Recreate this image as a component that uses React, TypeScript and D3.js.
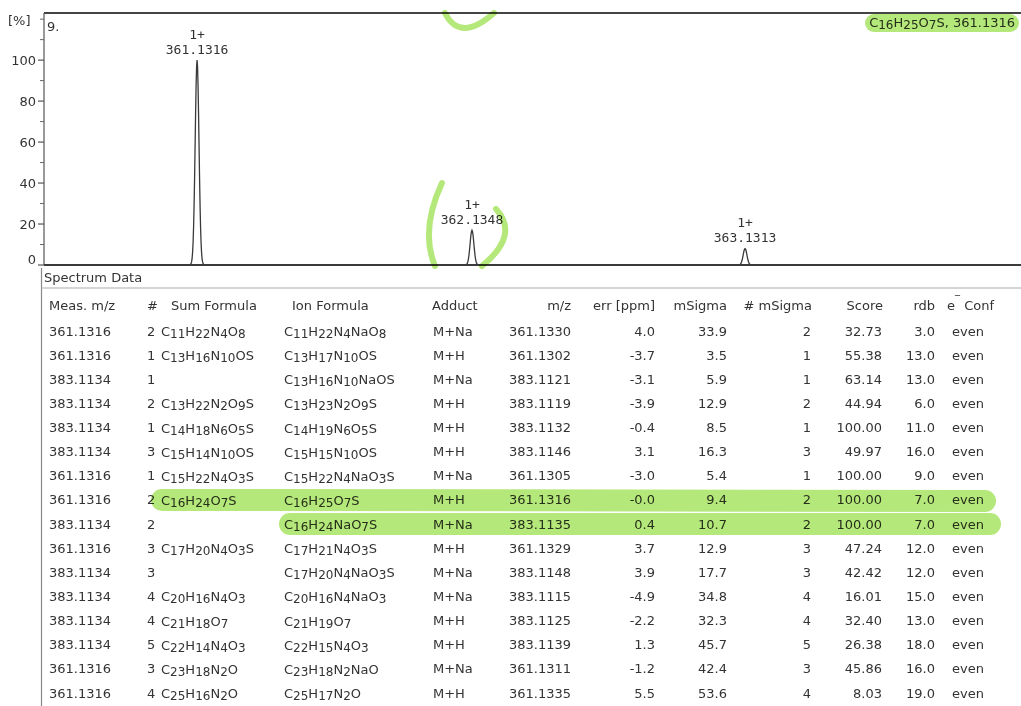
import React from "react";
import * as d3 from "d3";

// ---------- spectrum data ----------
const peakMz = [361.1316, 362.1348, 363.1313];
const peakIntensity = [100, 17, 8];
const peakCharge = ["1+", "1+", "1+"];
const yTickValues = [0, 20, 40, 60, 80, 100];
const yMinorTicks = [10, 30, 50, 70, 90, 110, 120];
const compoundLabel = "C16H25O7S";
const compoundMz = "361.1316";
const spectrumIndex = "9.";

// ---------- table data ----------
const measMz = ["361.1316", "361.1316", "383.1134", "383.1134", "383.1134", "383.1134", "361.1316", "361.1316", "383.1134", "361.1316", "383.1134", "383.1134", "383.1134", "383.1134", "361.1316", "361.1316"];
const rankNo = [2, 1, 1, 2, 1, 3, 1, 2, 2, 3, 3, 4, 4, 5, 3, 4];
const sumFormula = ["C11H22N4O8", "C13H16N10OS", "", "C13H22N2O9S", "C14H18N6O5S", "C15H14N10OS", "C15H22N4O3S", "C16H24O7S", "", "C17H20N4O3S", "", "C20H16N4O3", "C21H18O7", "C22H14N4O3", "C23H18N2O", "C25H16N2O"];
const ionFormula = ["C11H22N4NaO8", "C13H17N10OS", "C13H16N10NaOS", "C13H23N2O9S", "C14H19N6O5S", "C15H15N10OS", "C15H22N4NaO3S", "C16H25O7S", "C16H24NaO7S", "C17H21N4O3S", "C17H20N4NaO3S", "C20H16N4NaO3", "C21H19O7", "C22H15N4O3", "C23H18N2NaO", "C25H17N2O"];
const adduct = ["M+Na", "M+H", "M+Na", "M+H", "M+H", "M+H", "M+Na", "M+H", "M+Na", "M+H", "M+Na", "M+Na", "M+H", "M+H", "M+Na", "M+H"];
const calcMz = ["361.1330", "361.1302", "383.1121", "383.1119", "383.1132", "383.1146", "361.1305", "361.1316", "383.1135", "361.1329", "383.1148", "383.1115", "383.1125", "383.1139", "361.1311", "361.1335"];
const errPpm = ["4.0", "-3.7", "-3.1", "-3.9", "-0.4", "3.1", "-3.0", "-0.0", "0.4", "3.7", "3.9", "-4.9", "-2.2", "1.3", "-1.2", "5.5"];
const mSigma = ["33.9", "3.5", "5.9", "12.9", "8.5", "16.3", "5.4", "9.4", "10.7", "12.9", "17.7", "34.8", "32.3", "45.7", "42.4", "53.6"];
const nMSigma = [2, 1, 1, 2, 1, 3, 1, 2, 2, 3, 3, 4, 4, 5, 3, 4];
const score = ["32.73", "55.38", "63.14", "44.94", "100.00", "49.97", "100.00", "100.00", "100.00", "47.24", "42.42", "16.01", "32.40", "26.38", "45.86", "8.03"];
const rdb = ["3.0", "13.0", "13.0", "6.0", "11.0", "16.0", "9.0", "7.0", "7.0", "12.0", "12.0", "15.0", "13.0", "18.0", "16.0", "19.0"];
const eConf = ["even", "even", "even", "even", "even", "even", "even", "even", "even", "even", "even", "even", "even", "even", "even", "even"];
const highlightedRows = [7, 8];

const W = 1021;
const H = 706;
const FONT = "'DejaVu Sans', Verdana, sans-serif";
const MONO = "'DejaVu Sans Mono', 'Liberation Mono', monospace";
const INK = "#333";
const HL = "#ade66b";

function Formula({ f, sub = 12, tail = "" }: { f: string; sub?: number; tail?: string }) {
  const parts: any[] = [];
  const re = /([A-Z][a-z]?)(\d*)/g;
  let m: RegExpExecArray | null;
  let lowered = false;
  let k = 0;
  while ((m = re.exec(f))) {
    parts.push(
      <tspan key={k++} dy={lowered ? -3 : 0}>
        {m[1]}
      </tspan>
    );
    lowered = false;
    if (m[2]) {
      parts.push(
        <tspan key={k++} fontSize={sub} dy={3}>
          {m[2]}
        </tspan>
      );
      lowered = true;
    }
  }
  if (tail) {
    parts.push(
      <tspan key={k++} dy={lowered ? -3 : 0}>
        {tail}
      </tspan>
    );
  }
  return <>{parts}</>;
}

export default function App() {
  const x = d3.scaleLinear().domain([360.573, 364.131]).range([44, 1019]);
  const y = d3.scaleLinear().domain([0, 123]).range([265, 13]);
  const rowY = d3.scaleLinear().domain([0, 15]).range([331, 693]);

  const peakPath = (mz: number, inten: number) => {
    const cx = x(mz);
    const s = 1.9;
    const pts = d3.range(-8, 8.01, 0.5).map((dx) => [cx + dx, y(inten * Math.exp(-(dx * dx) / (2 * s * s)))] as [number, number]);
    return d3.line()(pts) || "";
  };

  const cols = [
    { key: "meas", header: "Meas. m/z", hx: 49, x: 49, anchor: "start", get: (i: number) => measMz[i] },
    { key: "rank", header: "#", hx: 147, x: 147, anchor: "start", get: (i: number) => String(rankNo[i]) },
    { key: "adduct", header: "Adduct", hx: 432, x: 433, anchor: "start", get: (i: number) => adduct[i] },
    { key: "mz", header: "m/z", hx: 571, x: 571, anchor: "end", get: (i: number) => calcMz[i] },
    { key: "err", header: "err [ppm]", hx: 655, x: 655, anchor: "end", get: (i: number) => errPpm[i] },
    { key: "ms", header: "mSigma", hx: 727, x: 727, anchor: "end", get: (i: number) => mSigma[i] },
    { key: "nms", header: "# mSigma", hx: 812, x: 811, anchor: "end", get: (i: number) => String(nMSigma[i]) },
    { key: "score", header: "Score", hx: 883, x: 882, anchor: "end", get: (i: number) => score[i] },
    { key: "rdb", header: "rdb", hx: 935, x: 935, anchor: "end", get: (i: number) => rdb[i] },
    { key: "conf", header: "", hx: 947, x: 952, anchor: "start", get: (i: number) => eConf[i] },
  ];

  const c2 = x(peakMz[1]);
  const y0 = y(0);
  const greenArcs = [
    `M${c2 - 30},${y0 - 82} Q${c2 - 52},${y0 - 35} ${c2 - 37},${y0 + 1}`,
    `M${c2 + 24},${y0 - 56} Q${c2 + 48},${y0 - 30} ${c2 + 10},${y0 + 1}`,
    `M${c2 - 27},${y(123)} Q${c2 - 12},${y(123) + 30} ${c2 + 22},${y(123)}`,
  ];

  return (
    <svg width={W} height={H} style={{ position: "absolute", left: 0, top: 0, background: "#fff" }} fontFamily={FONT} fontSize={13}>
      <rect width={W} height={H} fill="#fff" />
      {/* ---- spectrum frame ---- */}
      <line x1={44} x2={W} y1={y(123)} y2={y(123)} stroke="#444" strokeWidth={2} />
      <line x1={44} x2={44} y1={y(123)} y2={y0} stroke="#555" strokeWidth={1.2} />
      {yTickValues.map((v) => (
        <g key={v}>
          <line x1={38} x2={44} y1={y(v)} y2={y(v)} stroke="#555" strokeWidth={1.2} />
          <text x={36} y={v === 0 ? y(v) - 6 : y(v)} textAnchor="end" dominantBaseline="central" fill={INK}>
            {v}
          </text>
        </g>
      ))}
      {yMinorTicks.map((v) => (
        <line key={v} x1={40} x2={44} y1={y(v)} y2={y(v)} stroke="#666" strokeWidth={1} />
      ))}
      <text x={8} y={20} fill={INK} dominantBaseline="central">[%]</text>
      <text x={47} y={26} fill={INK} dominantBaseline="central">{spectrumIndex}</text>

      {/* peaks */}
      {peakMz.map((mz, i) => (
        <g key={mz}>
          <path d={peakPath(mz, peakIntensity[i])} fill="#fff" stroke="#3a3a3a" strokeWidth={1.3} />
          <text x={x(mz)} y={y(peakIntensity[i]) - 26} textAnchor="middle" dominantBaseline="central" fontFamily={MONO} fill={INK}>
            {peakCharge[i]}
          </text>
          <text x={x(mz)} y={y(peakIntensity[i]) - 11} textAnchor="middle" dominantBaseline="central" fontFamily={MONO} fill={INK}>
            {mz.toFixed(4)}
          </text>
        </g>
      ))}
      <line x1={44} x2={W} y1={y0} y2={y0} stroke="#3a3a3a" strokeWidth={2} />

      {/* top-right compound label */}
      <text x={1015} y={22} textAnchor="end" dominantBaseline="central" fill={INK}>
        <Formula f={compoundLabel} tail={", " + compoundMz} />
      </text>

      {/* ---- table panel ---- */}
      <line x1={41.5} x2={41.5} y1={268} y2={H} stroke="#888" strokeWidth={1.2} />
      <text x={44} y={277} dominantBaseline="central" fill={INK}>Spectrum Data</text>
      <line x1={41} x2={W} y1={288} y2={288} stroke="#aaa" strokeWidth={1} />

      {/* headers */}
      {cols.map((c) =>
        c.key === "conf" ? (
          <text key={c.key} x={c.hx} y={305} dominantBaseline="central" fill={INK}>
            e<tspan fontSize={10} dy={-6}>‾</tspan>
            <tspan dy={6}> Conf</tspan>
          </text>
        ) : (
          <text key={c.key} x={c.hx} y={305} textAnchor={c.anchor as any} dominantBaseline="central" fill={INK}>
            {c.header}
          </text>
        )
      )}
      <text x={171} y={305} dominantBaseline="central" fill={INK}>Sum Formula</text>
      <text x={292} y={305} dominantBaseline="central" fill={INK}>Ion Formula</text>

      {/* rows */}
      {measMz.map((_, i) => (
        <g key={i}>
          {cols.map((c) => (
            <text key={c.key} x={c.x} y={rowY(i)} textAnchor={c.anchor as any} dominantBaseline="central" fill={INK}>
              {c.get(i)}
            </text>
          ))}
          {sumFormula[i] && (
            <text x={161} y={rowY(i)} dominantBaseline="central" fill={INK}>
              <Formula f={sumFormula[i]} />
            </text>
          )}
          <text x={284} y={rowY(i)} dominantBaseline="central" fill={INK}>
            <Formula f={ionFormula[i]} />
          </text>
        </g>
      ))}

      {/* highlighter marks */}
      <g style={{ mixBlendMode: "multiply" }} stroke={HL} fill="none" strokeLinecap="round" opacity={0.9}>
        <line x1={874} x2={1010} y1={23} y2={23} strokeWidth={18} />
        <line x1={162} x2={985} y1={rowY(highlightedRows[0])} y2={rowY(highlightedRows[0]) + 1} strokeWidth={22} />
        <line x1={290} x2={990} y1={rowY(highlightedRows[1])} y2={rowY(highlightedRows[1])} strokeWidth={22} />
        {greenArcs.map((d, i) => (
          <path key={i} d={d} strokeWidth={6} />
        ))}
      </g>
    </svg>
  );
}
